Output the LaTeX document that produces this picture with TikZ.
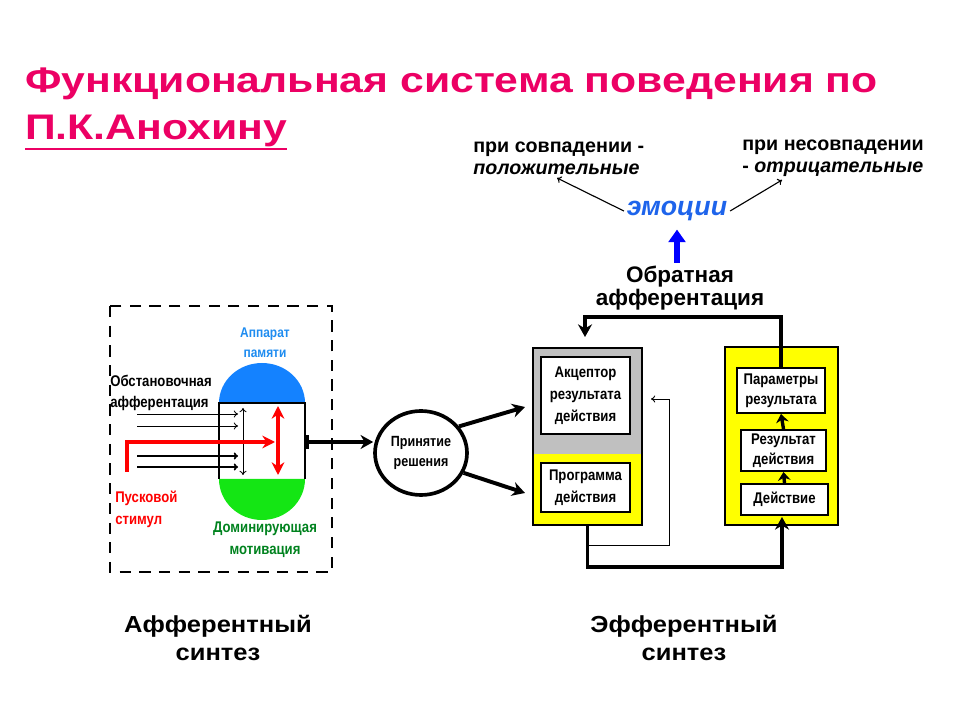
\documentclass[tikz,border=0pt]{standalone}
\usepackage{fontspec}
\setmainfont{Liberation Sans}
\newfontfamily\narrowfont{Liberation Sans}[FakeStretch=0.85]
\newfontfamily\widefont{Liberation Sans}[FakeStretch=1.2]
\newfontfamily\bottomfont{Liberation Sans}[FakeStretch=1.1]
\usetikzlibrary{arrows.meta}
\usetikzlibrary{shapes.geometric}
\usetikzlibrary{positioning}

\definecolor{titlered}{RGB}{236,0,100}
\definecolor{emoblue}{RGB}{30,100,235}
\definecolor{memblue}{RGB}{30,140,240}
\definecolor{domeblue}{RGB}{20,130,255}
\definecolor{domegreen}{RGB}{20,230,20}
\definecolor{motgreen}{RGB}{0,130,30}
\definecolor{boxgray}{RGB}{192,192,192}
\definecolor{boxyellow}{RGB}{255,255,0}
\newcommand\pxu{0.025cm}

\begin{document}
\begin{tikzpicture}[x=0.025cm, y=-0.025cm,
		lbl/.style={font=\narrowfont\bfseries\fontsize{11}{15.5}\selectfont, align=center, inner sep=0pt},
		inbox/.style={lbl, draw=black, line width=1.4pt, fill=white},
		thk/.style={line width=2.8pt, -{Stealth[length=9pt,width=10pt]}},
		small/.style={line width=2.4pt, -{Stealth[length=6pt,width=9pt]}},
		thin/.style={line width=0.6pt, -{To[length=3pt,width=5pt]}},
		redarr/.style={red, line width=2.8pt, -{Stealth[length=9pt,width=9pt]}},
]
\useasboundingbox (0,0) rectangle (960,720);

% title
\node[anchor=base west, inner sep=0pt, text=titlered, font=\widefont\bfseries\fontsize{25.3}{25}\selectfont] (t1) at (25,93) {Функциональная система поведения по};
\node[anchor=base west, inner sep=0pt, text=titlered, font=\widefont\bfseries\fontsize{25.3}{25}\selectfont] (t2) at (25,140) {П.К.Анохину};
\draw[titlered, line width=2pt] ([yshift=-1pt]t2.south west) -- ([yshift=-1pt]t2.south east);

% emotions
\node[anchor=west, align=left, inner sep=0pt, font=\bfseries\fontsize{14}{15.5}\selectfont] (pos) at (473,158) {при совпадении -\\\textit{положительные}};
\node[anchor=west, align=left, inner sep=0pt, font=\bfseries\fontsize{14}{15.5}\selectfont] (neg) at (742,158) {при несовпадении\\- \textit{отрицательные}};
\node[inner sep=2pt, text=emoblue, font=\bfseries\itshape\fontsize{19}{19}\selectfont] (emo) at (677,211) {эмоции};
\coordinate (posend) at (557,178);
\coordinate (negend) at (782,180);
\draw[thin, line width=0.8pt] (emo.west) -- (posend);
\draw[thin, line width=0.8pt] (emo.east) -- (negend);
\node[align=center, inner sep=0pt, font=\bfseries\fontsize{16}{16.5}\selectfont] (obr) at (680,288) {Обратная\\афферентация};
\draw[blue, line width=4.5pt, -{Triangle[length=9pt,width=12pt]}, shorten <=2pt, shorten >=4pt] (emo.south |- obr.north) -- (emo.south);

% afferent synthesis
\draw[line width=1.5pt, dash pattern=on 8pt off 6pt] (110,306) rectangle (332,572);
\node[lbl, text=memblue, font=\narrowfont\bfseries\fontsize{10}{14.5}\selectfont] (mem) at (265,343) {Аппарат\\памяти};
\fill[domeblue] (219,403) arc[start angle=180, end angle=360, x radius=43, y radius=40] -- cycle;
\fill[domegreen] (219,479) arc[start angle=180, end angle=0, x radius=43, y radius=41] -- cycle;
\draw[line width=1.2pt] (219,479) -- (219,403) -- (305,403) -- (305,479);
\node[lbl, anchor=west, align=left] (obst) at (110,393) {Обстановочная\\афферентация};
\node[lbl, anchor=west, align=left, text=red] (pusk) at (115,509) {Пусковой\\стимул};
\node[lbl, text=motgreen] (motiv) at (265,540) {Доминирующая\\мотивация};
\draw[thin] (137,414) -- (238,414);
\draw[thin] (137,426) -- (238,426);
\draw[thin, line width=1.2pt] (137,456) -- (238,456);
\draw[thin, line width=1.2pt] (137,467) -- (238,467);
\draw[thin, {To[length=3pt,width=5pt]}-{To[length=3pt,width=5pt]}] (243,408) -- (243,475);
\draw[redarr] (127,472) |- (275,442);
\draw[redarr, {Stealth[length=9pt,width=9pt]}-{Stealth[length=9pt,width=9pt]}] (278,406) -- (278,475);

% decision
\node[ellipse, draw=black, line width=2.6pt, minimum width=92*\pxu, minimum height=84*\pxu, inner sep=0pt, lbl, font=\narrowfont\bfseries\fontsize{10.5}{14}\selectfont] (dec) at (421,453) {Принятие\\решения};
\coordinate (capout) at (305,442);
\draw[line width=2.8pt, {Bar[width=10pt]}-{Stealth[length=9pt,width=10pt]}] (capout) -- (capout -| dec.west);

% efferent synthesis
\node[fill=boxgray, minimum width=109*\pxu, minimum height=106*\pxu, inner sep=0pt] (grayblk) at (587.5,401) {};
\node[fill=boxyellow, minimum width=109*\pxu, minimum height=71*\pxu, inner sep=0pt] (yelblk) at (587.5,489.5) {};
\draw[line width=1.6pt] (grayblk.north west) rectangle (yelblk.south east);
\node[inbox, minimum width=89*\pxu, minimum height=77*\pxu] (acc) at (585.5,395.5) {Акцептор\\результата\\действия};
\node[inbox, minimum width=89*\pxu, minimum height=49*\pxu] (prog) at (585.5,487.5) {Программа\\действия};

\node[fill=boxyellow, draw=black, line width=1.6pt, minimum width=113*\pxu, minimum height=178*\pxu, inner sep=0pt] (resblk) at (781.5,436) {};
\node[inbox, minimum width=88*\pxu, minimum height=45*\pxu, font=\narrowfont\bfseries\fontsize{11}{14}\selectfont] (par) at (781,390.5) {Параметры\\результата};
\node[inbox, minimum width=85*\pxu, minimum height=41*\pxu, font=\narrowfont\bfseries\fontsize{11}{14}\selectfont] (res) at (783.5,450.5) {Результат\\действия};
\node[inbox, minimum width=87*\pxu, minimum height=31*\pxu] (act) at (784.5,499.5) {Действие};
\draw[small] (res.north) -- (par.south);
\draw[small] (act.north) -- (res.south);

\coordinate (accin1) at (525,407);
\coordinate (accin2) at (525,493);
\draw[thk] (dec.35) -- (accin1);
\draw[thk] (dec.-25) -- (accin2);

\coordinate (accfb) at (585,337);
\draw[thk] (par.north) -- ++(0,-50) -| (accfb);
\coordinate (acttip) at (782,517);
\draw[thk] (yelblk.south) -- ++(0,42) -| (acttip);
\coordinate (split) at (588,545);
\coordinate (accback) at (651,399);
\draw[thin] (split) -| (669,399) -- (accback);

% bottom captions
\node[align=center, inner sep=0pt, font=\bottomfont\bfseries\fontsize{16.5}{20}\selectfont] (afs) at (218,638) {Афферентный\\синтез};
\node[align=center, inner sep=0pt, font=\bottomfont\bfseries\fontsize{16.5}{20}\selectfont] (efs) at (684,638) {Эфферентный\\синтез};

\end{tikzpicture}
\end{document}
